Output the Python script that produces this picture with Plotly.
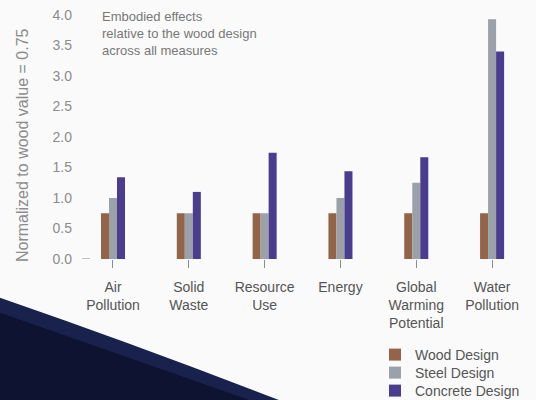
import plotly.graph_objects as go

# ── Data ──────────────────────────────────────────────────────────────────────
CATEGORIES = [
    "Air<br>Pollution",
    "Solid<br>Waste",
    "Resource<br>Use",
    "Energy",
    "Global<br>Warming<br>Potential",
    "Water<br>Pollution",
]
WOOD = [0.75, 0.75, 0.75, 0.75, 0.75, 0.75]
STEEL = [1.00, 0.75, 0.75, 1.00, 1.25, 3.93]
CONCRETE = [1.34, 1.10, 1.74, 1.44, 1.67, 3.40]
Y_TICKS = [0.0, 0.5, 1.0, 1.5, 2.0, 2.5, 3.0, 3.5, 4.0]

# ── Colours ───────────────────────────────────────────────────────────────────
COLOUR_WOOD = "#946449"
COLOUR_STEEL = "#9ba1a8"
COLOUR_CONCRETE = "#4a3c8e"
COLOUR_TICK = "#8c8c8c"
COLOUR_LABEL = "#555555"
COLOUR_BG = "#fafafa"

FONT = "Liberation Sans, Arial, sans-serif"

# plot area in pixels (used to place decorations)
L, T, W, H = 91, 15, 439, 244


def px_x(p):
    return (p - L) / W


def px_y(p):
    return (T + H - p) / H


fig = go.Figure()
series = [
    ("Wood Design", WOOD, COLOUR_WOOD, "legend", 355),
    ("Steel Design", STEEL, COLOUR_STEEL, "legend2", 373),
    ("Concrete Design", CONCRETE, COLOUR_CONCRETE, "legend3", 391),
]
legends = {}
for name, vals, col, leg, row_y in series:
    fig.add_trace(go.Bar(x=CATEGORIES, y=vals, name=name, legend=leg, showlegend=True,
                         marker=dict(color=col, line=dict(width=0))))
    # one legend per row so the rows sit as tightly as in the original
    legends[leg] = dict(
        xref="container", yref="container",
        x=375 / 536, y=1 - row_y / 400,
        xanchor="left", yanchor="middle",
        bgcolor="rgba(0,0,0,0)",
        font=dict(size=14, color=COLOUR_LABEL),
    )

# ── Decorations ───────────────────────────────────────────────────────────────
shapes = [
    # the lone tick beside 0.0
    dict(type="line", xref="paper", yref="y", x0=px_x(82), x1=px_x(90), y0=0, y1=0,
         line=dict(color=COLOUR_TICK, width=1)),
    # dark page corner
    dict(type="path", xref="paper", yref="paper", layer="above", line=dict(width=0),
         fillcolor="#19224c",
         path=f"M {px_x(-2)},{px_y(297)} Q {px_x(140)},{px_y(346)} {px_x(284)},{px_y(402)} "
              f"L {px_x(-2)},{px_y(402)} Z"),
    dict(type="path", xref="paper", yref="paper", layer="above", line=dict(width=0),
         fillcolor="#0e1331",
         path=f"M {px_x(-2)},{px_y(312)} Q {px_x(130)},{px_y(358)} {px_x(255)},{px_y(402)} "
              f"L {px_x(-2)},{px_y(402)} Z"),
]

fig.update_layout(
    width=536,
    height=400,
    showlegend=True,
    paper_bgcolor=COLOUR_BG,
    plot_bgcolor=COLOUR_BG,
    font=dict(family=FONT, color=COLOUR_LABEL),
    margin=dict(l=L, r=536 - L - W, t=T, b=400 - T - H, autoexpand=False),
    barmode="group",
    bargap=0.683,
    bargroupgap=0,
    xaxis=dict(
        range=[-0.29, 5.5],
        showgrid=False,
        showline=False,
        zeroline=False,
        ticks="outside",
        ticklen=8,
        tickcolor=COLOUR_TICK,
        ticklabelstandoff=7,
        tickfont=dict(size=14, color=COLOUR_LABEL),
    ),
    yaxis=dict(
        range=[0, 4.0],
        tickvals=Y_TICKS,
        tickformat=".1f",
        showgrid=False,
        showline=False,
        zeroline=False,
        ticks="",
        ticklabelstandoff=18,
        tickfont=dict(size=14, color=COLOUR_TICK),
    ),
    **legends,
    shapes=shapes,
    annotations=[
        dict(
            text="Normalized to wood value = 0.75",
            xref="paper", yref="paper",
            x=px_x(22), y=px_y(145),
            xanchor="center", yanchor="middle",
            textangle=-90, showarrow=False,
            font=dict(size=16, color=COLOUR_TICK),
        ),
        dict(
            text="Embodied effects<br>relative to the wood design<br>across all measures",
            xref="paper", yref="paper",
            x=px_x(100), y=px_y(7),
            xanchor="left", yanchor="top", align="left", showarrow=False,
            font=dict(size=13, color="#777777"),
        ),
    ],
)

fig.write_html("out.html", config={"displayModeBar": False},
               post_script="document.body.style.margin = '0';")
